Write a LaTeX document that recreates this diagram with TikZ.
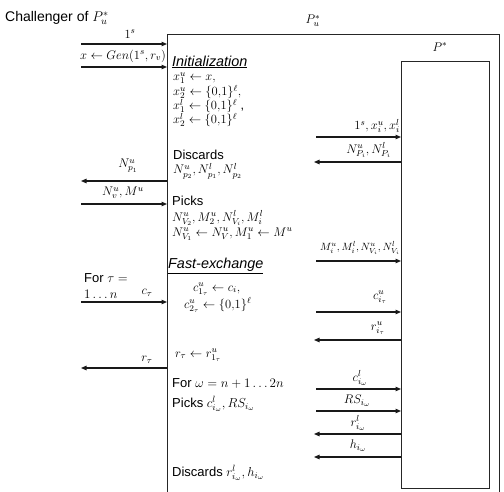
\RequirePackage{fix-cm}
\documentclass[tikz,border=0pt]{standalone}
\usepackage[no-math]{fontspec}
\setmainfont{Liberation Sans}
\usetikzlibrary{arrows.meta}
\begin{document}
\begin{tikzpicture}[x=1pt,y=-1pt,
  arr/.style={-{Triangle[length=5.5pt,width=4.5pt]},line width=1.1pt,draw=black!90},
  frame/.style={line width=0.9pt,draw=black!85},
  txt/.style={anchor=west,inner sep=0pt,font=\fontsize{13}{15}\selectfont},
  mtxt/.style={anchor=west,inner sep=0pt,font=\fontsize{12.5}{14}\selectfont},
  mlab/.style={inner sep=0pt,font=\fontsize{12.5}{14}\selectfont},
  head/.style={anchor=west,inner sep=0pt,font=\fontsize{14.4}{16}\selectfont\itshape}]
\useasboundingbox (0,0) rectangle (504,492);

% titles
\node[txt,font=\fontsize{14}{16}\selectfont] (chal) at (5,18) {Challenger of $P_u^*$};
\node[mlab] (pu) at (313,21) {$P_u^*$};
\node[mlab] (ps) at (440,47) {$P^*$};

% frames
\coordinate (obl) at (167,492);
\coordinate (otl) at (167,34);
\coordinate (otr) at (499,34);
\coordinate (obr) at (499,492);
\draw[frame] (obl) -- (otl) -- (otr) -- (obr);
\coordinate (itl) at (401,61);
\coordinate (ibr) at (489,488);
\draw[frame] (itl) rectangle (ibr);

% left arrows (challenger side)
\coordinate (a1l) at (81,44);   \coordinate (a1r) at (167,44);
\coordinate (a2l) at (81,67);   \coordinate (a2r) at (167,67);
\coordinate (a3l) at (81,181);  \coordinate (a3r) at (167,181);
\coordinate (a4l) at (81,204);  \coordinate (a4r) at (167,204);
\coordinate (a5l) at (81,302);  \coordinate (a5r) at (167,302);
\coordinate (a6l) at (81,368);  \coordinate (a6r) at (167,368);
\draw[arr] (a1l) -- (a1r);
\draw[arr] (a2l) -- (a2r);
\draw[arr] (a3r) -- (a3l);
\draw[arr] (a4l) -- (a4r);
\draw[arr] (a5l) -- (a5r);
\draw[arr] (a6r) -- (a6l);
\node[mlab] (l1) at (130,34) {$1^s$};
\node[mlab] (l2) at (123,56) {$x \leftarrow Gen(1^s, r_v)$};
\node[mlab] (l3) at (128,166) {$N_{p_1}^u$};
\node[mlab] (l4) at (123,193) {$N_v^u, M^u$};
\node[mlab] (l5) at (147,293) {$c_\tau$};
\node[mlab] (l6) at (147,360) {$r_\tau$};
\node[txt] (fort) at (84,278) {For $\tau=$};
\node[txt] (fortn) at (84,294) {$1\ldots n$};

% right arrows (P* side)
\coordinate (b1l) at (316,137); \coordinate (b1r) at (401,137);
\coordinate (b2l) at (314,162); \coordinate (b2r) at (401,162);
\coordinate (b3l) at (316,261); \coordinate (b3r) at (401,261);
\coordinate (b4l) at (316,312); \coordinate (b4r) at (401,312);
\coordinate (b5l) at (314,340); \coordinate (b5r) at (401,340);
\coordinate (b6l) at (316,389); \coordinate (b6r) at (401,389);
\coordinate (b7l) at (316,411); \coordinate (b7r) at (401,411);
\coordinate (b8l) at (314,434); \coordinate (b8r) at (401,434);
\coordinate (b9l) at (314,457); \coordinate (b9r) at (401,457);
\draw[arr] (b1l) -- (b1r);
\draw[arr] (b2r) -- (b2l);
\draw[arr] (b3l) -- (b3r);
\draw[arr] (b4l) -- (b4r);
\draw[arr] (b5r) -- (b5l);
\draw[arr] (b6l) -- (b6r);
\draw[arr] (b7l) -- (b7r);
\draw[arr] (b8r) -- (b8l);
\draw[arr] (b9r) -- (b9l);
\node[mlab,anchor=east] (m1) at (400,126) {$1^s, x_i^u, x_i^l$};
\node[mlab,anchor=east] (m2) at (391,150) {$N_{P_i}^u, N_{P_i}^l$};
\node[mlab,anchor=east,font=\fontsize{10.5}{12}\selectfont] (m3) at (400,248) {$M_i^u, M_i^l, N_{V_i}^u, N_{V_i}^l$};
\node[mlab] (m4) at (380,297) {$c_{i_\tau}^u$};
\node[mlab] (m5) at (378,328) {$r_{i_\tau}^u$};
\node[mlab] (m6) at (360,378) {$c_{i_\omega}^l$};
\node[mlab] (m7) at (357,401) {$RS_{i_\omega}$};
\node[mlab] (m8) at (358,423) {$r_{i_\omega}^l$};
\node[mlab] (m9) at (358,446) {$h_{i_\omega}$};

% text inside P_u^*
\node[head] (init) at (172,62) {\underline{Initialization}};
\node[mtxt] (t1) at (173,78) {$x_1^u \leftarrow x,$};
\node[mtxt] (t2) at (173,92) {$x_2^u \leftarrow \{0{,}1\}^\ell,$};
\node[mtxt] (t3) at (173,106) {$x_1^l \leftarrow \{0{,}1\}^\ell$ ,};
\node[mtxt] (t4) at (173,120) {$x_2^l \leftarrow \{0{,}1\}^\ell$};
\node[txt] (disc) at (173,155) {Discards};
\node[mtxt] (t5) at (173,171) {$N_{p_2}^u, N_{p_1}^l, N_{p_2}^l$};
\node[txt] (picks) at (172,201) {Picks};
\node[mtxt] (t6) at (172,218) {$N_{V_2}^u, M_2^u, N_{V_i}^l, M_i^l$};
\node[mtxt] (t7) at (172,234) {$N_{V_1}^u \leftarrow N_V^u, M_1^u \leftarrow M^u$};
\node[head] (fast) at (168,266) {\underline{Fast-exchange}};
\node[mtxt] (t8) at (193,289) {$c_{1_\tau}^u \leftarrow c_i,$};
\node[mtxt] (t9) at (184,305) {$c_{2_\tau}^u \leftarrow \{0{,}1\}^\ell$};
\node[mtxt] (t10) at (175,355) {$r_\tau \leftarrow r_{1_\tau}^u$};
\node[txt] (forw) at (172,384) {For $\omega = n+1\ldots 2n$};
\node[txt] (picks2) at (172,404) {Picks $c_{i_\omega}^l, RS_{i_\omega}$};
\node[txt] (disc2) at (172,473) {Discards $r_{i_\omega}^l, h_{i_\omega}$};
\end{tikzpicture}
\end{document}
